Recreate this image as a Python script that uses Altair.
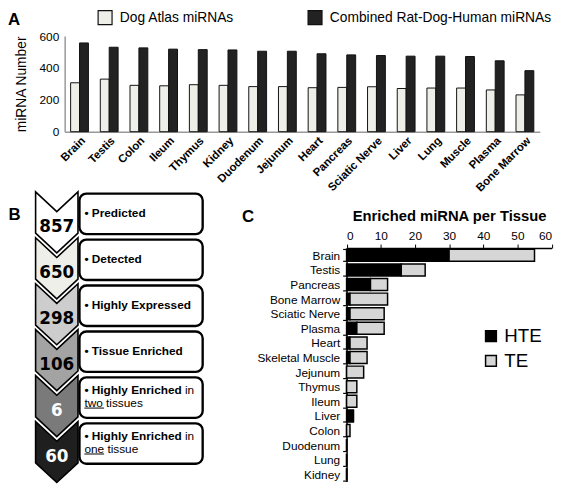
import altair as alt
import pandas as pd

W, H = 558, 481


def X(r):
    return r - 7.5


def Y(r):
    return r - 7


# ---------------- Panel A data ----------------
tissues_a = ["Brain", "Testis", "Colon", "Ileum", "Thymus", "Kidney", "Duodenum", "Jejunum",
             "Heart", "Pancreas", "Sciatic Nerve", "Liver", "Lung", "Muscle", "Plasma", "Bone Marrow"]
dog_atlas = [307, 330, 291, 288, 295, 291, 283, 283, 276, 278, 282, 271, 274, 274, 262, 231]
combined = [557, 530, 526, 518, 515, 513, 505, 505, 489, 482, 478, 474, 474, 472, 445, 383]
series_a = ["Dog Atlas miRNAs", "Combined Rat-Dog-Human miRNAs"]
series_a_colors = ["#efefe9", "#222222"]

# ---------------- Panel B data ----------------
step_counts = ["857", "650", "298", "106", "6", "60"]
step_line1 = ["• Predicted", "• Detected", "• Highly Expressed", "• Tissue Enriched",
              "• Highly Enriched", "• Highly Enriched"]
step_tail = ["", "", "", "", "in", "in"]
step_line2 = ["", "", "", "", "two tissues", "one tissue"]
step_fill = ["#ffffff", "#efefe9", "#cdcdcd", "#a3a3a3", "#7a7a7a", "#1f1f1f"]
step_text_color = ["#000000", "#000000", "#000000", "#000000", "#ffffff", "#ffffff"]

# ---------------- Panel C data ----------------
tissues_c = ["Brain", "Testis", "Pancreas", "Bone Marrow", "Sciatic Nerve", "Plasma", "Heart",
             "Skeletal Muscle", "Jejunum", "Thymus", "Ileum", "Liver", "Colon", "Duodenum", "Lung", "Kidney"]
hte = [30, 16, 7, 1, 1, 3, 1, 1, 0, 0, 0, 2, 0, 0, 0, 0]
te = [25, 7, 5, 11, 10, 8, 5, 5, 5, 3, 3, 0, 1, 0, 0, 0]
types_c = ["HTE", "TE"]
types_c_colors = ["#000000", "#d6d6d6"]

panel_letters = ["A", "B", "C"]

FONT = "Liberation Sans"

# ---------------- Panel A ----------------
df_a = pd.DataFrame({
    "tissue": tissues_a * 2,
    "series": [series_a[0]] * len(tissues_a) + [series_a[1]] * len(tissues_a),
    "value": dog_atlas + combined,
})

a_y0, a_y1 = Y(129), Y(32)
panel_a = alt.Chart(df_a).mark_bar(stroke="#111111", strokeWidth=1).encode(
    x=alt.X("tissue:N", sort=tissues_a,
            scale=alt.Scale(range=[X(65), X(547)], paddingInner=0.4, paddingOuter=0.2),
            axis=alt.Axis(orient="bottom", offset=-(H - a_y0), title=None, labelAngle=-45,
                          labelFontWeight="bold", labelFontSize=11.5, ticks=False,
                          domainColor="#999999", domainWidth=1.5, labelPadding=3)),
    xOffset=alt.XOffset("series:N", sort=series_a),
    y=alt.Y("value:Q", scale=alt.Scale(domain=[0, 600], range=[a_y0, a_y1]),
            axis=alt.Axis(orient="left", offset=-X(65), values=[0, 200, 400, 600], ticks=False,
                          grid=False, domainColor="#999999", domainWidth=1.5,
                          title="miRNA Number", titleFontWeight="normal", titleFontSize=14,
                          titleX=X(21) - X(65), titleY=(a_y0 + a_y1) / 2,
                          titleAlign="center", titleBaseline="middle", titleAngle=-90,
                          labelFontSize=12, labelPadding=6)),
    fill=alt.Fill("series:N", sort=series_a,
                  scale=alt.Scale(domain=series_a, range=series_a_colors),
                  legend=alt.Legend(title=None, orient="none", legendX=X(98), legendY=Y(5),
                                    direction="horizontal", symbolType="square", symbolSize=200,
                                    symbolStrokeColor="#111111", symbolStrokeWidth=1.2,
                                    labelFontSize=14, columnPadding=72, labelOffset=7,
                                    labelLimit=400)),
)

# ---------------- Panel B ----------------
df_b = pd.DataFrame({
    "i": list(range(len(step_counts))),
    "count": step_counts,
    "line1": step_line1,
    "tail": step_tail,
    "line2": step_line2,
    "fill": step_fill,
    "tcolor": step_text_color,
})

STEP = 46.6
b_scale = alt.Scale(domain=[0, 6], range=[Y(190), Y(190 + 6 * STEP)])
CHEVRON = "M-1,-1.44L0,-0.51L1,-1.44L1,0.51L0,1.44L-1,0.51Z"

b_base = alt.Chart(df_b).transform_calculate(
    cy="datum.i + 0.665",
    ny="datum.i + 0.77",
    y0="datum.i + 0.04",
    y1="datum.i + 0.92",
    l1="datum.line2 == '' ? datum.i + 0.47 : datum.i + 0.31",
    l2="datum.i + 0.59",
)

chev_unit = 21.5
chevrons = b_base.mark_point(shape=CHEVRON, filled=True, opacity=1, size=(2 * chev_unit) ** 2,
                             stroke="#000000", strokeWidth=1.6).encode(
    x=alt.value(X(57)),
    y=alt.Y("cy:Q", scale=b_scale, axis=None),
    fill=alt.Fill("fill:N", scale=None),
)
numbers = b_base.mark_text(font="DejaVu Sans", fontWeight="bold", fontSize=17,
                           baseline="middle", align="center").encode(
    x=alt.value(X(57)),
    y=alt.Y("ny:Q", scale=b_scale, axis=None),
    text="count:N",
    color=alt.Color("tcolor:N", scale=None),
)
shadows = b_base.mark_rect(fill="#9a9a9a", cornerRadius=7, xOffset=2, yOffset=2).encode(
    x=alt.value(X(80)), x2=alt.value(X(205)),
    y=alt.Y("y0:Q", scale=b_scale, axis=None), y2="y1:Q",
)
boxes = b_base.mark_rect(fill="#ffffff", stroke="#000000", strokeWidth=2.4, cornerRadius=7).encode(
    x=alt.value(X(80)), x2=alt.value(X(205)),
    y=alt.Y("y0:Q", scale=b_scale, axis=None), y2="y1:Q",
)
line1 = b_base.mark_text(font=FONT, fontWeight="bold", fontSize=12, align="left",
                         baseline="middle").encode(
    x=alt.value(X(85)),
    y=alt.Y("l1:Q", scale=b_scale, axis=None),
    text="line1:N",
)
tail = b_base.transform_filter("datum.tail != ''").mark_text(
    font=FONT, fontSize=12, align="left", baseline="middle").encode(
    x=alt.value(X(85) + 102),
    y=alt.Y("l1:Q", scale=b_scale, axis=None),
    text="tail:N",
)
line2 = b_base.transform_filter("datum.line2 != ''").mark_text(
    font=FONT, fontSize=12, align="left", baseline="middle").encode(
    x=alt.value(X(85)),
    y=alt.Y("l2:Q", scale=b_scale, axis=None),
    text="line2:N",
)
underline = b_base.transform_filter("datum.line2 != ''").mark_rule(
    color="#000000", strokeWidth=1, yOffset=5.5).encode(
    x=alt.value(X(85)), x2=alt.value(X(85) + 20),
    y=alt.Y("l2:Q", scale=b_scale, axis=None),
)
panel_b = alt.layer(chevrons, numbers, shadows, boxes, line1, tail, line2, underline)

# ---------------- Panel C ----------------
df_c = pd.DataFrame({
    "tissue": tissues_c * 2,
    "type": [types_c[0]] * len(tissues_c) + [types_c[1]] * len(tissues_c),
    "count": hte + te,
    "ord": [0] * len(tissues_c) + [1] * len(tissues_c),
})

panel_c = alt.Chart(df_c).mark_bar(stroke="#000000", strokeWidth=1.5).encode(
    y=alt.Y("tissue:N", sort=tissues_c,
            scale=alt.Scale(range=[Y(247), Y(484)], paddingInner=0.18, paddingOuter=0.09),
            axis=alt.Axis(orient="left", offset=-X(351), title=None, labelFontSize=12,
                          tickBand="extent", tickSize=4, tickColor="#000000", tickWidth=1.2,
                          domainColor="#000000", domainWidth=1.5, labelPadding=3)),
    x=alt.X("count:Q", stack="zero",
            scale=alt.Scale(domain=[0, 60], range=[X(351), X(559)]),
            axis=alt.Axis(orient="top", offset=-Y(247), values=[0, 10, 20, 30, 40, 50, 60],
                          title="Enriched miRNA per Tissue", titleFontSize=15,
                          titleFontWeight="bold", titlePadding=6, grid=False, tickSize=4,
                          tickColor="#000000", domainColor="#000000", domainWidth=1.5,
                          labelFontSize=12, labelPadding=2)),
    fill=alt.Fill("type:N", sort=types_c,
                  scale=alt.Scale(domain=types_c, range=types_c_colors),
                  legend=alt.Legend(title=None, orient="none", legendX=X(488), legendY=Y(327),
                                    symbolType="square", symbolSize=120,
                                    symbolStrokeColor="#000000", symbolStrokeWidth=1.5,
                                    labelFontSize=19, rowPadding=5, labelOffset=4)),
    order=alt.Order("ord:Q"),
)

# ---------------- Panel letters ----------------
letter_pos = [(0, 1), (X(8), Y(206)), (X(245), Y(208))]
letters = [
    alt.Chart(pd.DataFrame({"t": [panel_letters[k]]})).mark_text(
        font=FONT, fontWeight="bold", fontSize=17, align="left", baseline="top").encode(
        text="t:N", x=alt.value(letter_pos[k][0]), y=alt.value(letter_pos[k][1]))
    for k in range(3)
]

chart = alt.layer(panel_a, panel_b, panel_c, *letters).resolve_scale(
    x="independent", y="independent", fill="independent", color="independent"
).resolve_axis(x="independent", y="independent").resolve_legend(
    fill="independent"
).properties(
    width=W, height=H, padding=0, autosize=alt.AutoSizeParams(type="none")
).configure(font=FONT).configure_view(stroke=None).configure_axis(
    labelColor="#000000", titleColor="#000000", labelFont=FONT, titleFont=FONT
).configure_legend(labelFont=FONT, labelColor="#000000")

chart.save("out.html", embed_options={"renderer": "svg", "actions": False})
